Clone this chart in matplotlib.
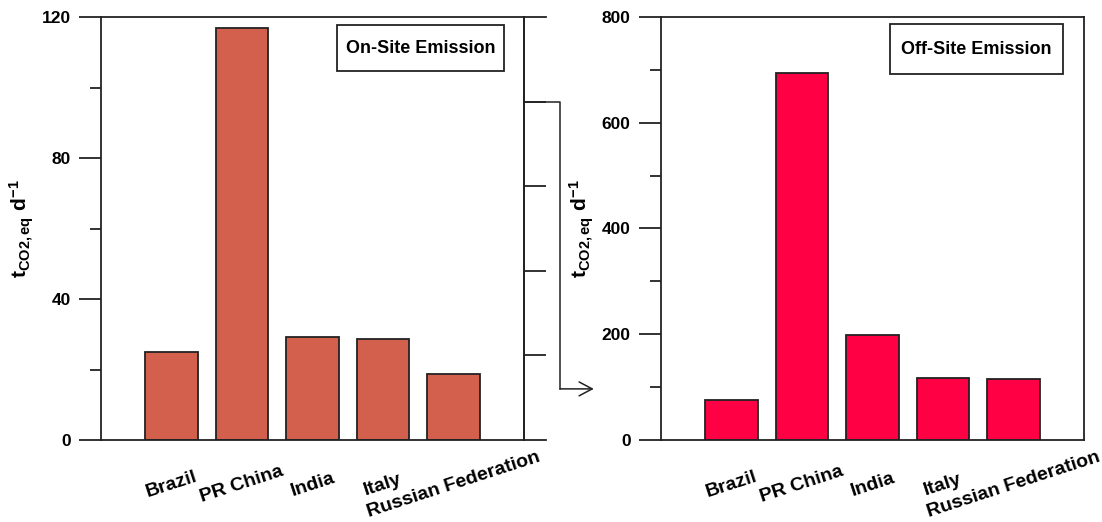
import matplotlib
matplotlib.use('Agg')
import matplotlib.pyplot as plt
import matplotlib.transforms as mtransforms
from matplotlib.patches import Rectangle

plt.rcParams['font.family'] = ['Liberation Sans', 'DejaVu Sans']
plt.rcParams['font.weight'] = 'bold'
plt.rcParams['mathtext.fontset'] = 'custom'
plt.rcParams['mathtext.rm'] = 'Liberation Sans:bold'
plt.rcParams['mathtext.bf'] = 'Liberation Sans:bold'
plt.rcParams['mathtext.it'] = 'Liberation Sans:bold'

COUNTRIES = ['Brazil', 'PR China', 'India', 'Italy', 'Russian Federation']
ON_SITE = [25.0, 117.0, 29.3, 28.7, 18.8]
OFF_SITE = [76, 694, 199, 118, 115]

ON_COLOR = '#D3604C'
OFF_COLOR = '#FF0044'
LINE = '#222222'
LW = 1.3
YLABEL = r'$\mathbf{t_{CO2,eq}\ d^{-1}}$'

fig = plt.figure(figsize=(11.02, 5.22), dpi=100)
ax1 = fig.add_axes([101 / 1102, 82 / 522, 423 / 1102, 423 / 522])
ax2 = fig.add_axes([661 / 1102, 82 / 522, 423 / 1102, 423 / 522])

x = list(range(1, len(COUNTRIES) + 1))
shift = mtransforms.ScaledTranslation(-0.10, 0, fig.dpi_scale_trans)


def style(ax, vals, color, ymax, major, minor, title, box):
    ax.bar(x, vals, width=0.75, color=color, edgecolor=LINE, linewidth=LW, zorder=2)
    ax.set_xlim(0, 6)
    ax.set_ylim(0, ymax)
    ax.set_yticks(major)
    ax.set_yticks(minor, minor=True)
    ax.set_xticks(x)
    ax.set_xticklabels(COUNTRIES, rotation=18, ha='center', va='center',
                       fontsize=14, fontweight='bold')
    for lab in ax.get_xticklabels():
        lab.set_transform(lab.get_transform() + shift)
    ax.tick_params(axis='x', length=0, pad=32)
    ax.tick_params(axis='y', which='major', length=15.8, width=LW, color=LINE,
                   labelsize=12.5, pad=6)
    ax.tick_params(axis='y', which='minor', length=7.9, width=LW, color=LINE)
    for lab in ax.get_yticklabels():
        lab.set_fontweight('bold')
    for s in ax.spines.values():
        s.set_color(LINE)
        s.set_linewidth(LW)
    ax.set_ylabel(YLABEL, fontsize=15, labelpad=4)
    x0, y0, x1, y1 = box
    ax.add_patch(Rectangle((x0, y0), x1 - x0, y1 - y0, transform=ax.transAxes,
                           facecolor='white', edgecolor=LINE, linewidth=LW, zorder=3))
    ax.text((x0 + x1) / 2, (y0 + y1) / 2, title, transform=ax.transAxes,
            ha='center', va='center', fontsize=13, fontweight='bold', zorder=4)


style(ax1, ON_SITE, ON_COLOR, 120, [0, 40, 80, 120], [20, 60, 100],
      'On-Site Emission', (0.558, 0.872, 0.953, 0.981))
style(ax2, OFF_SITE, OFF_COLOR, 800, [0, 200, 400, 600, 800], [100, 300, 500, 700],
      'Off-Site Emission', (0.541, 0.865, 0.950, 0.983))

# right-hand axis of the first panel (unlabelled ticks)
sec = ax1.secondary_yaxis('right')
sec.set_yticks([24, 48, 72, 96])
sec.tick_params(length=15.8, width=LW, color=LINE, labelright=False)
sec.spines['right'].set_color(LINE)
sec.spines['right'].set_linewidth(LW)
for yy in (0, 1):
    ax1.plot([1, 1.052], [yy, yy], color=LINE, lw=LW, transform=ax1.transAxes,
             clip_on=False)

# connector arrow from the first panel to the second
ax1.plot([6, 6.51, 6.51], [96, 96, 14.5], color=LINE, lw=1.1, clip_on=False)
ax1.annotate('', xy=(6.99, 14.5), xytext=(6.51, 14.5), annotation_clip=False,
             arrowprops=dict(arrowstyle='->,head_length=0.47,head_width=0.25',
                             color=LINE, lw=1.1, mutation_scale=20,
                             shrinkA=0, shrinkB=0))

fig.savefig('out.png', dpi=100)
